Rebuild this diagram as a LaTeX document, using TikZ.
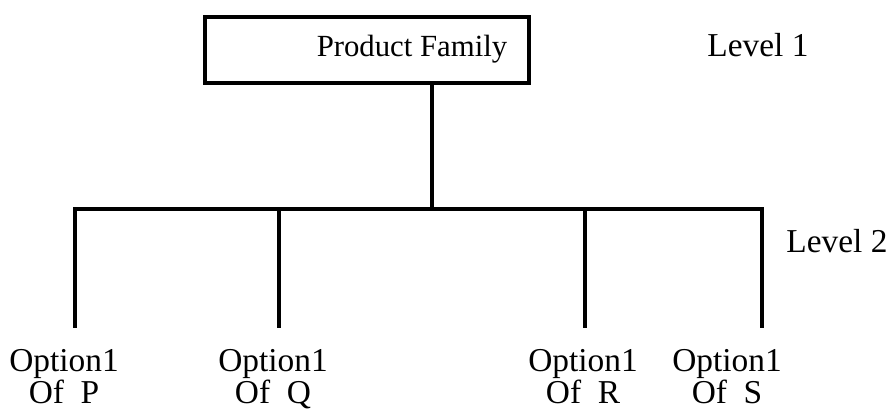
\documentclass[tikz,border=0pt]{standalone}
\usepackage{fontspec}
\setmainfont{Liberation Serif}
\usetikzlibrary{positioning}

\begin{document}
\begin{tikzpicture}[
    fambox/.style={draw, line width=2.4pt, minimum width=6.48cm, minimum height=1.32cm},
    txt/.style={font=\fontsize{17.5}{16}\selectfont, inner sep=0pt},
    big/.style={font=\fontsize{19}{18.5}\selectfont, inner sep=0pt},
    opt/.style={big, align=center, anchor=north},
    tree/.style={line width=2pt}
  ]
  \useasboundingbox (0,0) rectangle (17.82,-8.24);

  % Level 1
  \node[fambox] (family) at (7.34,-1.0) {};
  \node[txt] (familytxt) at (8.24,-0.98) {Product Family};
  \node[big] (lvlone) at (15.16,-0.9) {Level 1};

  % Level 2
  \node[big] (lvltwo) at (16.74,-4.82) {Level 2};
  \coordinate (stem) at (8.64,-4.18);
  \draw[tree] (family.south -| stem) -- (stem);
  \foreach \n/\x in {p/1.5, q/5.58, r/11.7, s/15.24} {
    \coordinate (top\n) at (\x,-4.18);
    \coordinate (bot\n) at (\x,-6.56);
  }
  \draw[tree] (botp) |- (tops) -- (bots);
  \draw[tree] (topq) -- (botq);
  \draw[tree] (topr) -- (botr);

  % Options
  \node[opt] (optp) at (1.28,-6.98) {Option1\\Of\ \ P};
  \node[opt] (optq) at (5.46,-6.98) {Option1\\Of\ \ Q};
  \node[opt] (optr) at (11.66,-6.98) {Option1\\Of\ \ R};
  \node[opt] (opts) at (14.54,-6.98) {Option1\\Of\ \ S};
\end{tikzpicture}
\end{document}
